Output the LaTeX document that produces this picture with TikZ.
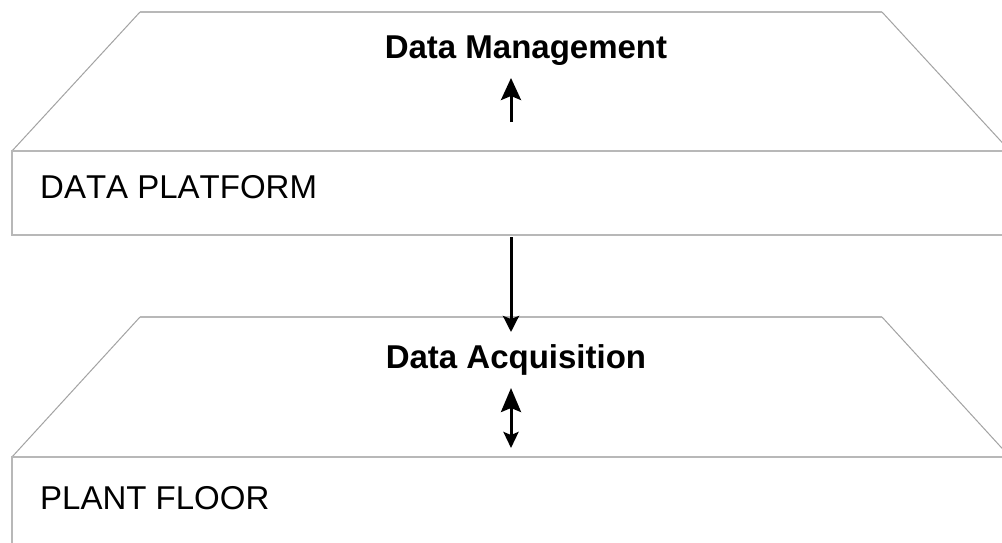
\documentclass[tikz,border=0pt]{standalone}
\usepackage{fontspec}
\setmainfont[Kerning=Off]{Liberation Sans}
\usetikzlibrary{arrows.meta}
\begin{document}
\begin{tikzpicture}[x=1pt,y=-1pt,
  edge/.style={draw=black!28, line width=2pt},
  slant/.style={draw=black!36, line width=1pt},
  layername/.style={font=\fontsize{33}{36}\selectfont, anchor=base west, inner sep=0pt},
  flowname/.style={font=\fontsize{33}{36}\selectfont\bfseries, anchor=base, inner sep=0pt},
  flow/.style={line width=3pt, draw=black},
]
\useasboundingbox (0,0) rectangle (1002,542);
\clip (0,0) rectangle (1002,542);
\fill[white] (0,0) rectangle (1002,542);

% upper layer: sloped roof over the data platform slab
\draw[slant] (12,151) -- (140,12);
\draw[slant] (882,12) -- (1010,151);
\draw[edge] (140,12) -- (882,12);
\draw[edge] (1020,151) -- (12,151) -- (12,235) -- (1020,235);

% lower layer: sloped roof over the plant floor slab
\draw[slant] (12,457) -- (140,317);
\draw[slant] (882,317) -- (1010,457);
\draw[edge] (140,317) -- (882,317);
\draw[edge] (1020,457) -- (12,457) -- (12,560);

% labels
\node[flowname] (mgmt) at (526,58) {Data Management};
\node[layername] (platform) at (40,198) {DATA PLATFORM};
\node[flowname] (acq) at (516,368) {Data Acquisition};
\node[layername] (floor) at (40,509) {PLANT FLOOR};

% connector end points
\coordinate (mgmtTail) at (511,122);
\coordinate (mgmtTip) at (511,78);
\coordinate (platBottom) at (511,237);
\coordinate (acqTip) at (511,332);
\coordinate (acqTop) at (511,388);
\coordinate (floorTop) at (511,448);

% data flows
\draw[flow, -{Stealth[length=22pt,width=20pt,inset=4pt]}] (mgmtTail) -- (mgmtTip);
\draw[flow, -{Stealth[length=16pt,width=16pt,inset=3pt]}] (platBottom) -- (acqTip);
\draw[flow, {Stealth[length=16pt,width=15pt,inset=3pt]}-{Stealth[length=24pt,width=20pt,inset=4pt]}] (floorTop) -- (acqTop);
\end{tikzpicture}
\end{document}
